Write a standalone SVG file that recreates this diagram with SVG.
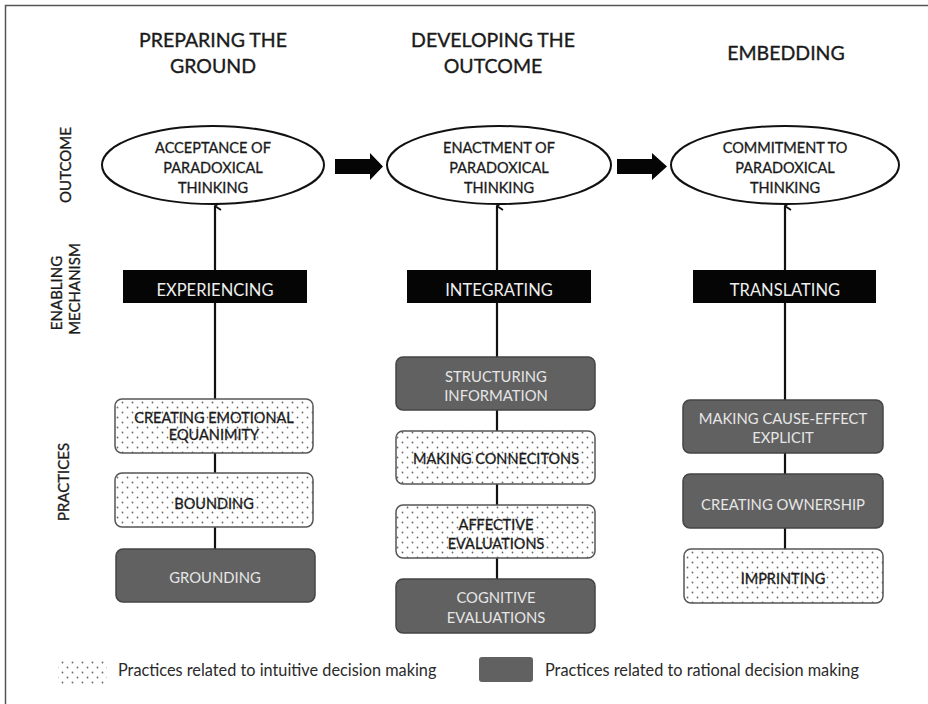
<svg xmlns="http://www.w3.org/2000/svg" width="928" height="704" viewBox="0 0 928 704">
<style>
text{font-family:Lato,"Open Sans","Liberation Sans",sans-serif;fill:#1a1a1a}
.h{font-size:19.5px;text-anchor:middle;stroke:#1a1a1a;stroke-width:0.35}
.side{font-size:15px;text-anchor:middle;stroke:#1a1a1a;stroke-width:0.3}
.ell{fill:#fff;stroke:#111;stroke-width:2}
.et{font-size:14.5px;text-anchor:middle;stroke:#1a1a1a;stroke-width:0.3}
.bar{fill:#050505}
.bt{font-size:16.5px;text-anchor:middle;fill:#eee}
.dot{fill:url(#dots);stroke:#555;stroke-width:1.5}
.gry{fill:#616161;stroke:#444;stroke-width:1.5}
.dt{font-size:14.5px;text-anchor:middle;fill:#1a1a1a;stroke:#1a1a1a;stroke-width:0.3}
.gt{font-size:14.8px;text-anchor:middle;fill:#e6e6e6}
.lg{font-size:16.3px;fill:#2a2a2a}
.ln{stroke:#111;stroke-width:2.2;fill:none}
</style>
<defs>
<pattern id="dots" width="10" height="10" patternUnits="userSpaceOnUse">
<rect width="10" height="10" fill="#fff"/>
<circle cx="2.5" cy="2.5" r="0.9" fill="#6a6a6a"/>
<circle cx="7.5" cy="7.5" r="0.9" fill="#6a6a6a"/>
</pattern>
<marker id="ah" markerWidth="10" markerHeight="10" refX="5" refY="1" orient="auto-start-reverse" markerUnits="userSpaceOnUse" viewBox="0 0 10 10">
<path d="M1,7 L5,1 L9,7" fill="none" stroke="#111" stroke-width="1.8"/>
</marker>
</defs>
<rect width="928" height="704" fill="#fff"/>
<path d="M5.5,704 V5.5 H928" fill="none" stroke="#555" stroke-width="1.5"/>

<g id="headers">
<text class="h" x="213" y="47">PREPARING THE</text>
<text class="h" x="213" y="73">GROUND</text>
<text class="h" x="493" y="47">DEVELOPING THE</text>
<text class="h" x="493" y="73">OUTCOME</text>
<text class="h" x="786" y="60">EMBEDDING</text>
</g>

<g id="row-labels">
<text class="side" transform="translate(71,165) rotate(-90)">OUTCOME</text>
<text class="side" transform="translate(62,293) rotate(-90)">ENABLING</text>
<text class="side" transform="translate(80,289) rotate(-90)">MECHANISM</text>
<text class="side" transform="translate(69,482) rotate(-90)">PRACTICES</text>
</g>

<g id="connectors">
<line class="ln" x1="215" y1="549" x2="215" y2="206" marker-end="url(#ah)"/>
<line class="ln" x1="497" y1="579" x2="497" y2="206" marker-end="url(#ah)"/>
<line class="ln" x1="785" y1="549" x2="785" y2="206" marker-end="url(#ah)"/>
<path d="M335,159 H370 V153 L383,166.5 L370,180 V174 H335 Z" fill="#050505"/>
<path d="M617,159 H652 V153 L667,166.5 L652,180 V174 H617 Z" fill="#050505"/>
</g>

<g id="outcome1">
<ellipse class="ell" cx="213" cy="165" rx="111" ry="39"/>
<text class="et" x="213" y="153">ACCEPTANCE OF</text>
<text class="et" x="213" y="173">PARADOXICAL</text>
<text class="et" x="213" y="193">THINKING</text>
</g>
<g id="outcome2">
<ellipse class="ell" cx="499" cy="165" rx="112" ry="39"/>
<text class="et" x="499" y="153">ENACTMENT OF</text>
<text class="et" x="499" y="173">PARADOXICAL</text>
<text class="et" x="499" y="193">THINKING</text>
</g>
<g id="outcome3">
<ellipse class="ell" cx="785" cy="165" rx="114" ry="39"/>
<text class="et" x="785" y="153">COMMITMENT TO</text>
<text class="et" x="785" y="173">PARADOXICAL</text>
<text class="et" x="785" y="193">THINKING</text>
</g>

<g id="mech1">
<rect class="bar" x="123" y="270" width="184" height="33"/>
<text class="bt" x="215" y="296">EXPERIENCING</text>
</g>
<g id="mech2">
<rect class="bar" x="407" y="270" width="184" height="33"/>
<text class="bt" x="499" y="296">INTEGRATING</text>
</g>
<g id="mech3">
<rect class="bar" x="693" y="270" width="183" height="33"/>
<text class="bt" x="785" y="296">TRANSLATING</text>
</g>

<g id="p-equanimity">
<rect class="dot" x="115" y="399" width="198" height="54" rx="7"/>
<text class="dt" x="214" y="423">CREATING EMOTIONAL</text>
<text class="dt" x="214" y="440">EQUANIMITY</text>
</g>
<g id="p-bounding">
<rect class="dot" x="115" y="473" width="198" height="54" rx="7"/>
<text class="dt" x="214" y="509">BOUNDING</text>
</g>
<g id="p-grounding">
<rect class="gry" x="116" y="549" width="199" height="53" rx="7"/>
<text class="gt" x="215" y="583">GROUNDING</text>
</g>

<g id="p-structuring">
<rect class="gry" x="396" y="357" width="199" height="53" rx="7"/>
<text class="gt" x="496" y="382">STRUCTURING</text>
<text class="gt" x="496" y="401">INFORMATION</text>
</g>
<g id="p-connections">
<rect class="dot" x="396" y="431" width="199" height="53" rx="7"/>
<text class="dt" x="496" y="464">MAKING CONNECITONS</text>
</g>
<g id="p-affective">
<rect class="dot" x="396" y="505" width="199" height="53" rx="7"/>
<text class="dt" x="496" y="530">AFFECTIVE</text>
<text class="dt" x="496" y="549">EVALUATIONS</text>
</g>
<g id="p-cognitive">
<rect class="gry" x="396" y="579" width="199" height="54" rx="7"/>
<text class="gt" x="496" y="603">COGNITIVE</text>
<text class="gt" x="496" y="623">EVALUATIONS</text>
</g>

<g id="p-causeeffect">
<rect class="gry" x="683" y="400" width="200" height="53" rx="7"/>
<text class="gt" x="783" y="424">MAKING CAUSE-EFFECT</text>
<text class="gt" x="783" y="443">EXPLICIT</text>
</g>
<g id="p-ownership">
<rect class="gry" x="683" y="474" width="200" height="54" rx="7"/>
<text class="gt" x="783" y="510">CREATING OWNERSHIP</text>
</g>
<g id="p-imprinting">
<rect class="dot" x="684" y="549" width="199" height="54" rx="7"/>
<text class="dt" x="783" y="584">IMPRINTING</text>
</g>

<g id="legend">
<rect x="58" y="660" width="49" height="24" fill="url(#dots)"/>
<text class="lg" x="118" y="676">Practices related to intuitive decision making</text>
<rect x="479" y="657" width="54" height="25" rx="3" fill="#616161"/>
<text class="lg" x="545" y="676">Practices related to rational decision making</text>
</g>
</svg>
